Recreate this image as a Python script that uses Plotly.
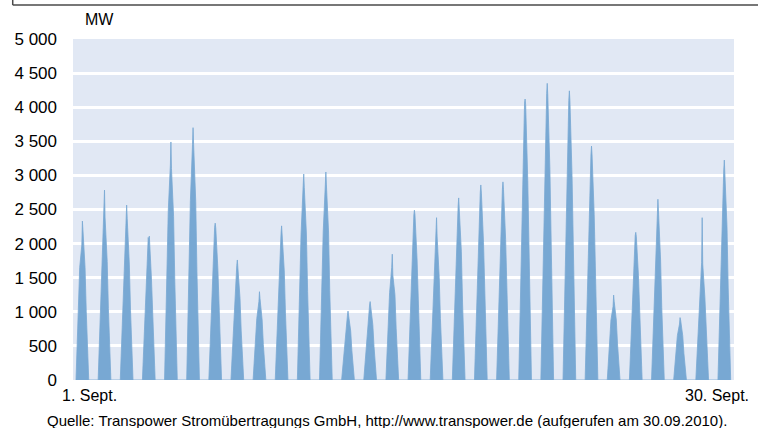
import plotly.graph_objects as go
import pandas as pd

# ---- data ----
days = list(range(1, 31))                       # 1..30 September 2010
peak_clock = "13:30"                            # approx. time of daily maximum
offsets_h = [-6.9, -4.2, -2.9, -0.6, 0.0, 0.6, 2.9, 4.2, 6.9]   # hours around the daily peak
mw_day = [
    [0, 1000, 1650, 1980, 2330, 2200, 1650, 1000, 0],   # 1
    [0, 1050, 1750, 2390, 2785, 2380, 1740, 1050, 0],   # 2
    [0, 1020, 1700, 2370, 2565, 2370, 1700, 1020, 0],   # 3
    [0, 880, 1480, 2090, 2020, 2110, 1480, 880, 0],     # 4
    [0, 1500, 2480, 3150, 3490, 3100, 2400, 1450, 0],   # 5
    [0, 1600, 2630, 3450, 3700, 3450, 2620, 1590, 0],   # 6
    [0, 990, 1630, 2240, 2300, 2230, 1630, 990, 0],     # 7
    [0, 760, 1250, 1680, 1760, 1640, 1200, 720, 0],     # 8
    [0, 560, 900, 1150, 1295, 1190, 880, 520, 0],       # 9
    [0, 950, 1580, 2150, 2260, 2150, 1600, 970, 0],     # 10
    [0, 1300, 2140, 2850, 3020, 2820, 2140, 1300, 0],   # 11
    [0, 1310, 2170, 2860, 3050, 2860, 2170, 1310, 0],   # 12
    [0, 440, 700, 950, 1010, 960, 720, 430, 0],         # 13
    [0, 490, 810, 1100, 1150, 1080, 810, 490, 0],       # 14
    [0, 780, 1280, 1650, 1845, 1540, 1250, 760, 0],     # 15
    [0, 1070, 1770, 2420, 2490, 2420, 1760, 1060, 0],   # 16
    [0, 900, 1500, 2050, 2380, 2110, 1500, 900, 0],     # 17
    [0, 1150, 1900, 2550, 2670, 2500, 1880, 1130, 0],   # 18
    [0, 1230, 2030, 2750, 2860, 2740, 2020, 1220, 0],   # 19
    [0, 1250, 2060, 2800, 2905, 2790, 2060, 1250, 0],   # 20
    [0, 1770, 2920, 4060, 4120, 4040, 2920, 1770, 0],   # 21
    [0, 1870, 3090, 4200, 4350, 4180, 3090, 1870, 0],   # 22
    [0, 1820, 3010, 4100, 4240, 4100, 3000, 1820, 0],   # 23
    [0, 1470, 2430, 3300, 3430, 3300, 2430, 1470, 0],   # 24
    [0, 530, 880, 1080, 1245, 1150, 880, 530, 0],       # 25
    [0, 930, 1540, 2120, 2165, 2100, 1530, 920, 0],     # 26
    [0, 1070, 1780, 2490, 2650, 2480, 1760, 1060, 0],   # 27
    [0, 390, 650, 820, 915, 880, 650, 390, 0],          # 28
    [0, 740, 1220, 1720, 2380, 1700, 1220, 740, 0],     # 29
    [0, 1380, 2290, 3080, 3225, 3000, 2250, 1350, 0],   # 30
]
ytick_vals = [0, 500, 1000, 1500, 2000, 2500, 3000, 3500, 4000, 4500, 5000]
ytick_text = ["0", "500", "1 000", "1 500", "2 000", "2 500", "3 000",
              "3 500", "4 000", "4 500", "5 000"]
x_start = "2010-09-01 03:20"
x_end = "2010-10-01 00:00"
unit_label = "MW"
first_label = "1. Sept."
last_label = "30. Sept."
source_text = ("Quelle: Transpower Stromübertragungs GmbH, http://www.transpower.de "
               "(aufgerufen am 30.09.2010).")

# ---- build series ----
xs, ys = [], []
for d, vals in zip(days, mw_day):
    peak = pd.Timestamp(f"2010-09-{d:02d} {peak_clock}")
    for off, v in zip(offsets_h, vals):
        xs.append(peak + pd.Timedelta(hours=off))
        ys.append(v)

FONT = "Arial, 'Liberation Sans', sans-serif"
BAR = "#78A8D3"
BG = "#E1E8F4"

fig = go.Figure()
fig.add_trace(go.Scatter(
    x=xs, y=ys, mode="lines", fill="tozeroy",
    line=dict(color=BAR, width=0.8), fillcolor=BAR,
    hoverinfo="x+y", showlegend=False,
))

fig.update_layout(
    width=758, height=428,
    margin=dict(l=73, r=24, t=39, b=48),
    paper_bgcolor="white", plot_bgcolor=BG,
    font=dict(family=FONT, color="black"),
    xaxis=dict(range=[x_start, x_end], showgrid=False, showticklabels=False,
               zeroline=False, showline=False, ticks=""),
    yaxis=dict(range=[0, 5000], tickvals=ytick_vals, ticktext=ytick_text,
               showgrid=True, gridcolor="white", gridwidth=3,
               zeroline=False, showline=False, ticks="",
               ticklabelstandoff=15, tickfont=dict(size=17, family=FONT)),
    annotations=[
        dict(text=unit_label, xref="paper", yref="paper", x=0.0147, y=1.056,
             xanchor="left", yanchor="middle", showarrow=False,
             font=dict(size=16, family=FONT)),
        dict(text=first_label, xref="paper", yref="paper", x=-0.02, y=-0.044,
             xanchor="left", yanchor="middle", showarrow=False,
             font=dict(size=16, family=FONT)),
        dict(text=last_label, xref="paper", yref="paper", x=1.0255, y=-0.044,
             xanchor="right", yanchor="middle", showarrow=False,
             font=dict(size=16, family=FONT)),
        dict(text=source_text, xref="paper", yref="paper", x=0.4746, y=-0.120,
             xanchor="center", yanchor="middle", showarrow=False,
             font=dict(size=15, family=FONT)),
    ],
    shapes=[
        dict(type="line", xref="paper", yref="paper", x0=-0.0912, x1=1.04,
             y0=1.0997, y1=1.0997, line=dict(color="#4a4a4a", width=1.5)),
        dict(type="line", xref="paper", yref="paper", x0=-0.0912, x1=-0.0912,
             y0=1.0997, y1=1.13, line=dict(color="#4a4a4a", width=1.5)),
    ],
)

fig.write_html(
    "out.html",
    config={"displayModeBar": False},
    post_script="document.body.style.margin='0';document.body.style.overflow='hidden';",
)
